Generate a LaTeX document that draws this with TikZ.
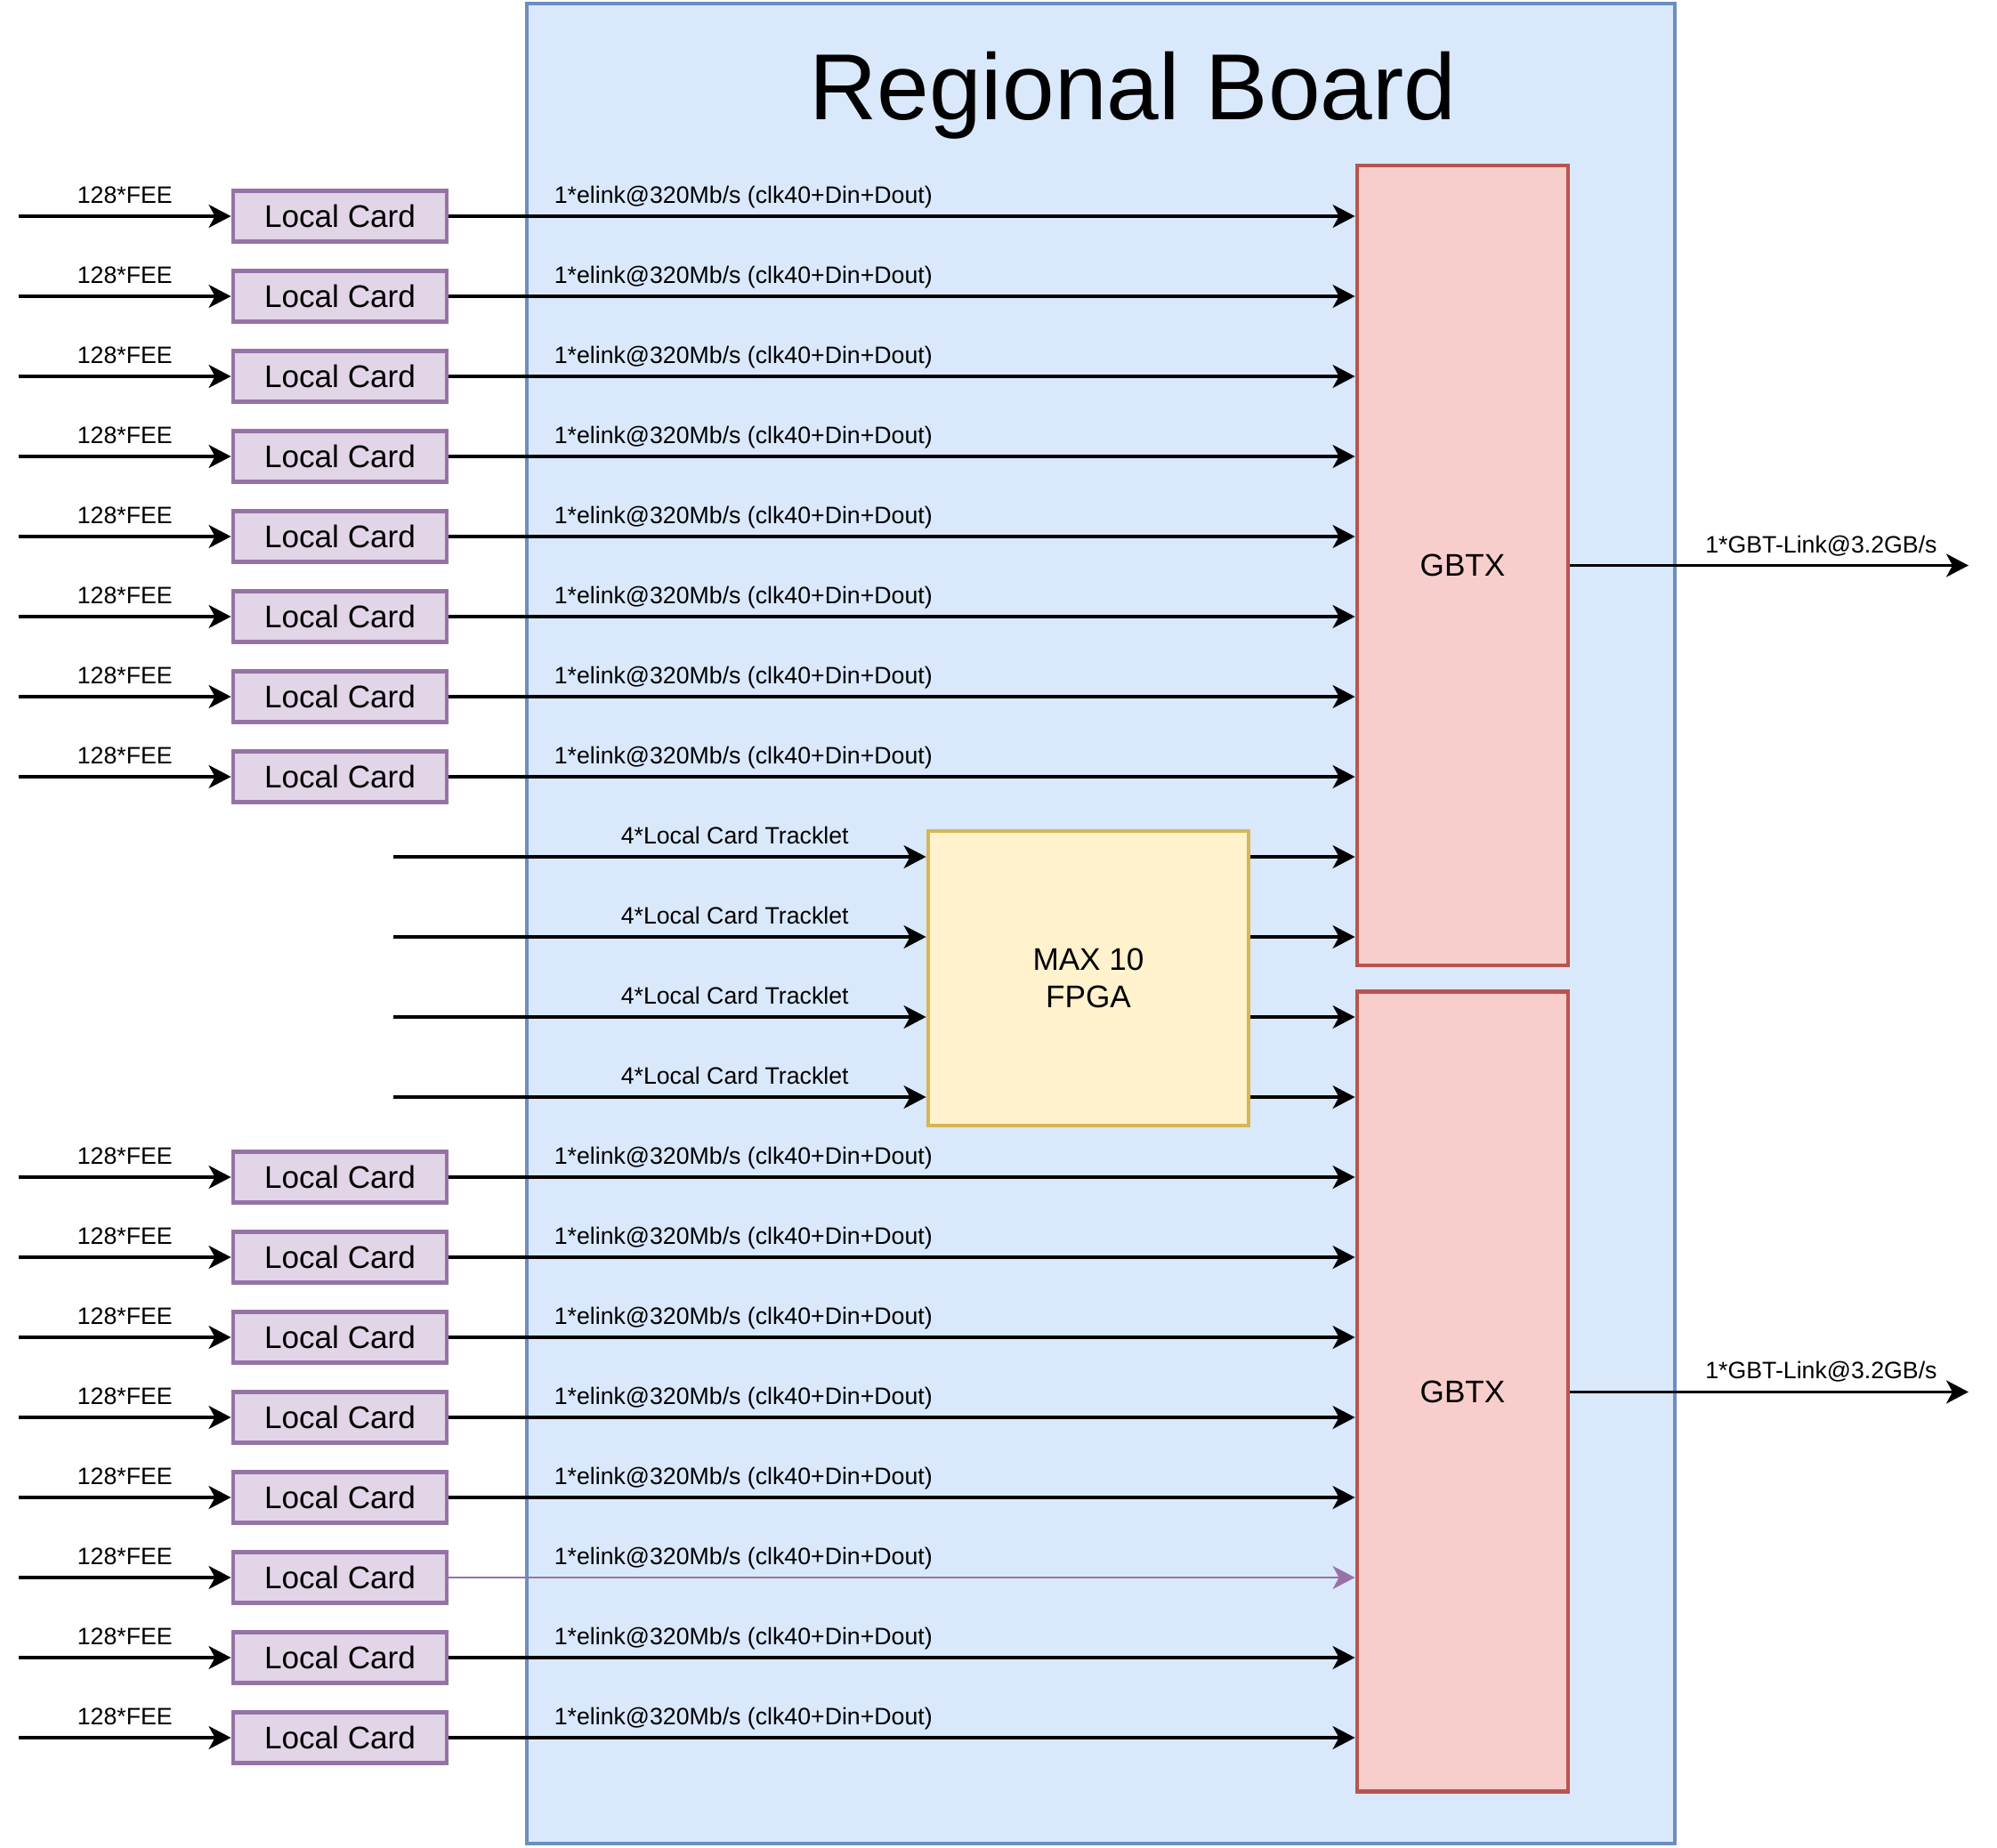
\documentclass[tikz,border=0pt]{standalone}
\usepackage{fontspec}
\setmainfont{Liberation Sans}
\usepackage{xcolor}
\usepackage{tikz}
\usetikzlibrary{positioning, arrows.meta}

\definecolor{boardfill}{HTML}{DAE8FC}
\definecolor{boardline}{HTML}{6C8EBF}
\definecolor{cardfill}{HTML}{E1D5E7}
\definecolor{cardline}{HTML}{9673A6}
\definecolor{gbtxfill}{HTML}{F8CECC}
\definecolor{gbtxline}{HTML}{B85450}
\definecolor{fpgafill}{HTML}{FFF2CC}
\definecolor{fpgaline}{HTML}{D6B656}

\begin{document}
\begin{tikzpicture}[
		box/.style={
			rectangle, 
			draw, 
			align=center, 
			inner sep=0pt,
			line width=1.4pt
		},
		board/.style={box, draw=boardline, fill=boardfill, line width=1.15pt, minimum width=12.9cm, minimum height=20.68cm},
		card/.style={box, draw=cardline, fill=cardfill, minimum width=2.4cm, minimum height=0.57cm, font=\fontsize{10}{12}\selectfont},
		gbtx/.style={box, draw=gbtxline, fill=gbtxfill, minimum width=2.37cm, minimum height=8.99cm, font=\fontsize{10}{12}\selectfont},
		fpga/.style={box, draw=fpgaline, fill=fpgafill, minimum width=3.6cm, minimum height=3.31cm, font=\fontsize{10}{12}\selectfont},
		arrow/.style={-{Stealth[length=0.25cm, width=0.26cm, inset=0.07cm]}, line width=0.9pt},
		lbl/.style={anchor=base, yshift=0.145cm, inner sep=0pt, font=\fontsize{7.6}{9}\selectfont}
		]
		
		\useasboundingbox (0,0) rectangle (22.44,-20.76);
		
		% --- 1. Board and chips ---
		\node[board] (board) at (12.37,-10.38) {};
		\node[font=\fontsize{30}{36}\selectfont] (title) at (12.73,-1.07) {Regional Board};
		
		\node[gbtx] (gtop) at (16.435,-6.355) {GBTX};
		% small gap between the two GBTX boxes
		\node[gbtx, below=0.25cm of gtop] (gbot) {GBTX};
		
		\node[fpga] (fpga) at (12.23,-10.995) {MAX 10\\FPGA};
		
		% --- 2. Local Cards (rows 0-7 and 12-19) ---
		\foreach \i in {0,1,2,3,4,5,6,7,12,13,14,15,16,17,18,19} {
			\node[card] (card\i) at (3.82,{-2.43-0.9*\i}) {Local Card};
			\coordinate (fee\i) at (0.21,{-2.43-0.9*\i});
			\draw[arrow] (fee\i) -- node[lbl] {128*FEE} (card\i);
		}
		
		% elinks into the upper GBTX
		\foreach \i in {0,...,7}
			\draw[arrow] (card\i) -- node[lbl, pos=0.325] {1*elink@320Mb/s (clk40+Din+Dout)} (card\i.east -| gtop.west);
		
		% elinks into the lower GBTX
		\foreach \i in {12,13,14,15,16,18,19}
			\draw[arrow] (card\i) -- node[lbl, pos=0.325] {1*elink@320Mb/s (clk40+Din+Dout)} (card\i.east -| gbot.west);
		
		% this one is drawn in purple
		\draw[arrow, draw=cardline, fill=cardline, line width=0.55pt] (card17) -- node[lbl, pos=0.325] {1*elink@320Mb/s (clk40+Din+Dout)} (card17.east -| gbot.west);
		
		% --- 3. Tracklets through the FPGA (rows 8-11) ---
		\foreach \i in {8,...,11} {
			\coordinate (trk\i) at (4.42,{-2.43-0.9*\i});
			\draw[arrow] (trk\i) -- node[lbl, pos=0.641] {4*Local Card Tracklet} (trk\i -| fpga.west);
		}
		\draw[arrow] (trk8 -| fpga.east) -- (trk8 -| gtop.west);
		\draw[arrow] (trk9 -| fpga.east) -- (trk9 -| gtop.west);
		\draw[arrow] (trk10 -| fpga.east) -- (trk10 -| gbot.west);
		\draw[arrow] (trk11 -| fpga.east) -- (trk11 -| gbot.west);
		
		% --- 4. GBT links out ---
		\coordinate (outtop) at (22.12,-6.355);
		\coordinate (outbot) at (gbot.east -| outtop);
		\draw[arrow] (gtop) -- node[lbl, pos=0.63] {1*GBT-Link@3.2GB/s} (outtop);
		\draw[arrow] (gbot) -- node[lbl, pos=0.63] {1*GBT-Link@3.2GB/s} (outbot);
		
	\end{tikzpicture}
\end{document}
